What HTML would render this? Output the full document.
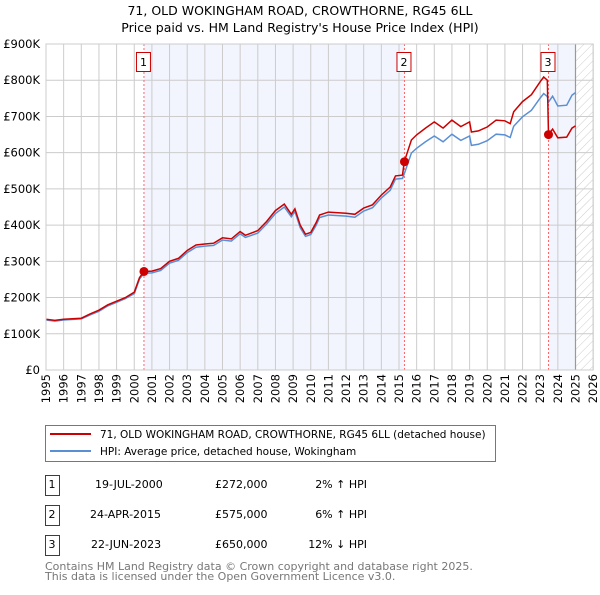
<!DOCTYPE html>
<html><head><meta charset="utf-8"><style>
body{margin:0;background:#fff;font-family:"Liberation Sans","DejaVu Sans",sans-serif;}
svg text{font-family:"DejaVu Sans","Liberation Sans",sans-serif;}
</style></head><body>
<svg id="c" width="600" height="590" xmlns="http://www.w3.org/2000/svg">
<defs><pattern id="hatch" width="6" height="6" patternUnits="userSpaceOnUse" patternTransform="rotate(45)"><line x1="0" y1="0" x2="0" y2="6" stroke="#ccc" stroke-width="1"/></pattern></defs>
<text x="300" y="15" text-anchor="middle" font-size="12.5">71, OLD WOKINGHAM ROAD, CROWTHORNE, RG45 6LL</text>
<text x="300" y="32" text-anchor="middle" font-size="12.5">Price paid vs. HM Land Registry's House Price Index (HPI)</text>
<g id="plot"></g>
<g>
<rect x="45.5" y="425.5" width="450" height="36" fill="#fff" stroke="#777"/>
<line x1="50" y1="434" x2="91" y2="434" stroke="#cc0000" stroke-width="2"/>
<text x="100" y="438" font-size="10.5">71, OLD WOKINGHAM ROAD, CROWTHORNE, RG45 6LL (detached house)</text>
<line x1="50" y1="451" x2="91" y2="451" stroke="#5b8fd4" stroke-width="2"/>
<text x="100" y="455" font-size="10.5">HPI: Average price, detached house, Wokingham</text>
</g>
<g font-size="11">
<rect x="45.5" y="475.5" width="14" height="20" fill="#fff" stroke="#cc0000"/><text x="52" y="488" text-anchor="middle">1</text>
<text x="95" y="488">19-JUL-2000</text><text x="215" y="488">£272,000</text><text x="367" y="488" text-anchor="end">2% ↑ HPI</text>
<rect x="45.5" y="505.5" width="14" height="20" fill="#fff" stroke="#cc0000"/><text x="52" y="518" text-anchor="middle">2</text>
<text x="90" y="518">24-APR-2015</text><text x="215" y="518">£575,000</text><text x="367" y="518" text-anchor="end">6% ↑ HPI</text>
<rect x="45.5" y="535.5" width="14" height="20" fill="#fff" stroke="#cc0000"/><text x="52" y="548" text-anchor="middle">3</text>
<text x="91" y="548">22-JUN-2023</text><text x="215" y="548">£650,000</text><text x="367" y="548" text-anchor="end">12% ↓ HPI</text>
</g>
<text x="45" y="570" font-size="11" fill="#777">Contains HM Land Registry data © Crown copyright and database right 2025.</text>
<text x="45" y="580" font-size="11" fill="#777">This data is licensed under the Open Government Licence v3.0.</text>
</svg>
<script>
const years=[1995,1995.5,1996,1997,1997.5,1998,1998.5,1999,1999.5,2000,2000.3,2000.55,2001,2001.5,2002,2002.5,2003,2003.5,2004,2004.5,2005,2005.5,2006,2006.3,2007,2007.5,2008,2008.5,2008.9,2009.1,2009.4,2009.7,2010,2010.3,2010.5,2011,2012,2012.5,2013,2013.5,2014,2014.5,2014.8,2015.2,2015.3,2015.7,2016,2016.5,2017,2017.5,2018,2018.5,2019,2019.1,2019.5,2020,2020.5,2021,2021.3,2021.5,2022,2022.5,2023,2023.2,2023.4,2023.47,2023.7,2024,2024.5,2024.8,2025];
const priceK=[140,137,140,143,155,165,180,190,200,215,255,272,273,280,300,308,330,345,348,350,365,362,382,372,385,410,440,458,430,445,400,375,380,406,428,436,433,430,447,456,483,505,536,538,575,635,649,668,685,668,690,672,685,657,660,671,690,688,680,713,741,760,796,809,800,650,665,641,643,668,674];
const hpiK=[138,135,138,141,152,162,177,187,197,211,251,267,268,275,295,303,324,339,342,344,359,356,376,366,378,403,432,450,423,438,393,369,374,399,421,428,425,422,439,448,475,496,527,529,542,599,612,630,646,630,651,634,646,620,623,633,651,649,642,673,699,717,751,763,755,740,756,729,731,759,766];
const saleYears=[2000.55,2015.31,2023.47];
const saleK=[272,575,650];
const yTicks=[0,100,200,300,400,500,600,700,800,900];
const xTicks=[1995,1996,1997,1998,1999,2000,2001,2002,2003,2004,2005,2006,2007,2008,2009,2010,2011,2012,2013,2014,2015,2016,2017,2018,2019,2020,2021,2022,2023,2024,2025,2026];
const NS="http://www.w3.org/2000/svg";
const X=y=>46+(y-1995)*17.65, Y=v=>370-v*0.3622;
const g=document.getElementById('plot');
function mk(t,a){const e=document.createElementNS(NS,t);for(const k in a)e.setAttribute(k,a[k]);g.appendChild(e);return e;}
let e;
e=mk('rect',{x:X(1995),y:44,width:X(2026)-X(1995),height:326,fill:'#fff'});


e=mk('rect',{x:X(saleYears[0]),y:44,width:X(saleYears[1])-X(saleYears[0]),height:326,fill:'#f2f5fd'});


e=mk('rect',{x:X(saleYears[2]),y:44,width:X(2025)-X(saleYears[2]),height:326,fill:'#f2f5fd'});


e=mk('rect',{x:X(2025),y:44,width:X(2026)-X(2025),height:326,fill:'url(#hatch)'});


yTicks.forEach(v=>{e=mk('line',{x1:X(1995),x2:X(2026),y1:Y(v),y2:Y(v),stroke:'#ccc'});


e=mk('text',{x:40,y:Y(v)+4,'text-anchor':'end','font-size':'11.5'});e.textContent=v===0?'£0':'£'+v+'K';

});
xTicks.forEach(y=>{e=mk('line',{x1:X(y),x2:X(y),y1:44,y2:370,stroke:'#ccc'});


e=mk('text',{x:0,y:0,'font-size':'11.5','text-anchor':'end',transform:`translate(${X(y)+4},374) rotate(-90)`});e.textContent=y;

});
e=mk('line',{x1:X(2025),x2:X(2025),y1:44,y2:370,stroke:'#999','stroke-width':1.2});


saleYears.forEach((s,i)=>{e=mk('line',{x1:X(s),x2:X(s),y1:44,y2:370,stroke:'#ff6666','stroke-dasharray':'2,2'});


e=mk('rect',{x:X(s)-7.5,y:52.5,width:14,height:19,fill:'#fff',stroke:'#cc0000'});


e=mk('text',{x:X(s)-0.5,y:66,'text-anchor':'middle','font-size':'11'});e.textContent=i+1;

});
const pts=a=>years.map((y,i)=>X(y).toFixed(1)+','+Y(a[i]).toFixed(1)).join(' ');
e=mk('polyline',{points:pts(hpiK),fill:'none',stroke:'#5b8fd4','stroke-width':1.5});


e=mk('polyline',{points:pts(priceK),fill:'none',stroke:'#cc0000','stroke-width':1.5});


saleYears.forEach((s,i)=>{e=mk('circle',{cx:X(s),cy:Y(saleK[i]),r:4.5,fill:'#cc0000'});

});
e=mk('rect',{x:X(1995),y:44,width:X(2026)-X(1995),height:326,fill:'none',stroke:'#ccc'});


</script>
</body></html>
